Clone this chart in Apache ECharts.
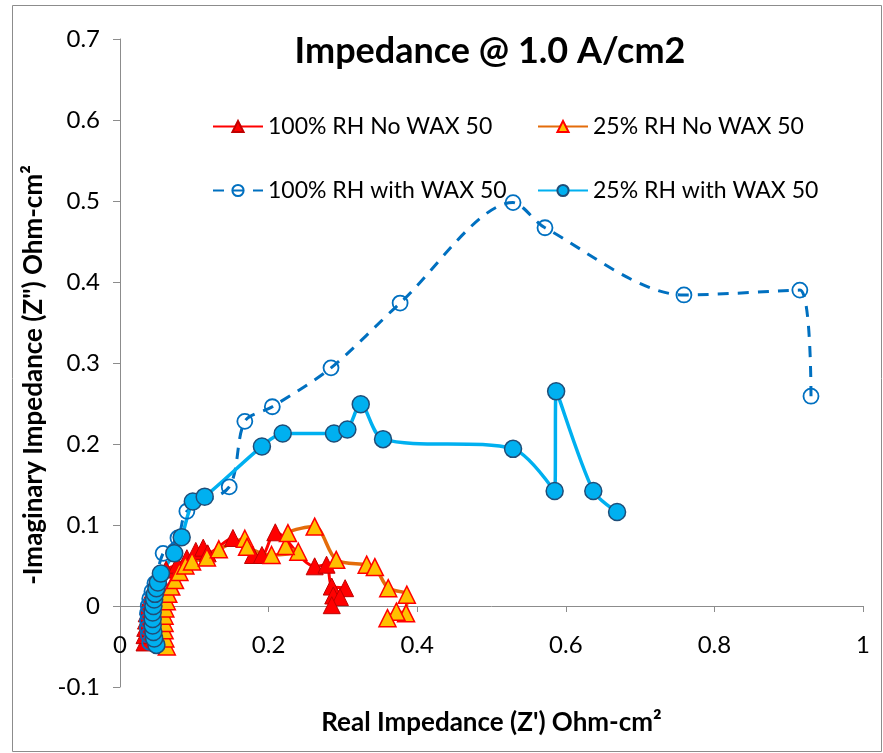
<!DOCTYPE html>
<html>
<head>
<meta charset="utf-8">
<script src="https://cdn.jsdelivr.net/npm/echarts@6/dist/echarts.min.js"></script>
<style>html,body{margin:0;padding:0;background:#fff}#c{width:883px;height:753px}</style>
</head>
<body>
<div id="c"></div>
<script>
// ---- data (Real Z', -Imag Z'') ----
const titleText = 'Impedance @ 1.0 A/cm2';
const xTitle = "Real Impedance (Z') Ohm-cm\u00b2";
const yTitle = '-Imaginary Impedance (Z") Ohm-cm\u00b2';
const seriesNames = ['100% RH No WAX 50', '25% RH No WAX 50', '100% RH with WAX 50', '25% RH with WAX 50'];

const rh100NoWax = [
  [0.033,-0.045],[0.033,-0.036],[0.034,-0.027],[0.035,-0.018],[0.036,-0.009],[0.038,0.000],
  [0.040,0.009],[0.043,0.018],[0.047,0.027],[0.053,0.036],[0.062,0.045],[0.077,0.051],
  [0.090,0.059],[0.102,0.068],[0.112,0.072],[0.118,0.065],[0.152,0.084],[0.179,0.063],
  [0.191,0.063],[0.209,0.091],[0.262,0.049],[0.278,0.051],[0.285,0.024],[0.303,0.022],
  [0.287,0.013],[0.296,0.011],[0.285,0.001]
];
const rh25NoWax = [
  [0.063,-0.050],[0.061,-0.040],[0.060,-0.030],[0.060,-0.021],[0.060,-0.012],[0.061,-0.003],
  [0.063,0.006],[0.065,0.015],[0.069,0.024],[0.074,0.032],[0.080,0.042],[0.088,0.050],
  [0.097,0.055],[0.117,0.060],[0.133,0.070],[0.168,0.083],[0.171,0.073],[0.204,0.063],
  [0.240,0.067],[0.223,0.074],[0.226,0.090],[0.262,0.098],[0.291,0.057],[0.332,0.051],
  [0.343,0.048],[0.361,0.022],[0.386,0.014],[0.385,-0.009],[0.372,-0.007],[0.360,-0.015]
];
const rh100Wax = [
  [0.040,-0.045],[0.038,-0.036],[0.037,-0.027],[0.037,-0.018],[0.037,-0.009],[0.038,0.000],
  [0.040,0.009],[0.043,0.018],[0.047,0.028],[0.058,0.065],[0.078,0.084],[0.090,0.117],
  [0.147,0.147],[0.168,0.228],[0.205,0.246],[0.284,0.294],[0.377,0.374],[0.529,0.498],
  [0.572,0.467],[0.759,0.384],[0.915,0.390],[0.930,0.259]
];
const rh25Wax = [
  [0.049,-0.048],[0.046,-0.040],[0.045,-0.032],[0.044,-0.024],[0.044,-0.016],[0.044,-0.008],
  [0.045,0.000],[0.046,0.008],[0.047,0.015],[0.049,0.022],[0.051,0.029],[0.055,0.040],
  [0.073,0.065],[0.083,0.085],[0.098,0.129],[0.114,0.135],[0.191,0.197],[0.219,0.213],
  [0.288,0.213],[0.306,0.218],[0.324,0.249],[0.354,0.206],[0.529,0.194],[0.585,0.142],
  [0.587,0.265],[0.637,0.142],[0.669,0.116]
];
const xTicks = [0, 0.2, 0.4, 0.6, 0.8, 1];
const yTicks = [-0.1, 0, 0.1, 0.2, 0.3, 0.4, 0.5, 0.6, 0.7];

const FONT = 'Lato';
const chart = echarts.init(document.getElementById('c'), null, {renderer: 'canvas'});

function legendAt(name, left, top) {
  return {
    data: [name], left: left, top: top, itemWidth: 50, itemHeight: 14, itemGap: 0,
    textStyle: {fontFamily: FONT, fontSize: 23, color: '#000'},
    selectedMode: false
  };
}

chart.setOption({
  animation: false,
  backgroundColor: '#fff',
  title: {
    text: titleText, left: 485, top: 28, textAlign: 'center',
    textStyle: {fontFamily: FONT, fontSize: 36, fontWeight: 'bold', color: '#000'}
  },
  legend: [
    legendAt(seriesNames[0], 207, 110),
    legendAt(seriesNames[1], 532, 110),
    legendAt(seriesNames[2], 207, 174),
    legendAt(seriesNames[3], 532, 174)
  ],
  graphic: [{
    type: 'rect', shape: {x: 12.5, y: 5.5, width: 869, height: 746},
    style: {fill: 'none', stroke: '#8c8c8c', lineWidth: 1}, silent: true, z: -1
  }],
  grid: {left: 120, right: 20, top: 39, bottom: 66, containLabel: false, outerBoundsMode: 'none'},
  xAxis: {
    type: 'value', min: 0, max: 1, interval: 0.2, position: 'bottom', offset: 0,
    name: xTitle, nameLocation: 'middle', nameGap: 104,
    nameTextStyle: {fontFamily: FONT, fontSize: 26, fontWeight: 'bold', color: '#000'},
    axisLine: {show: true, onZero: false, lineStyle: {color: '#8c8c8c', width: 1}},
    axisTick: {show: true, length: 6, lineStyle: {color: '#8c8c8c'}},
    axisLabel: {fontFamily: FONT, fontSize: 24, color: '#000', margin: 27,
      formatter: v => String(+v.toFixed(1))},
    splitLine: {show: false}
  },
  yAxis: {
    type: 'value', min: -0.1, max: 0.7, interval: 0.1,
    name: yTitle, nameLocation: 'middle', nameGap: 68, nameRotate: 90,
    nameTextStyle: {fontFamily: FONT, fontSize: 26, fontWeight: 'bold', color: '#000', padding: [0, 24, 0, 0]},
    axisLine: {show: true, onZero: false, lineStyle: {color: '#8c8c8c', width: 1}},
    axisTick: {show: true, length: 7, lineStyle: {color: '#8c8c8c'}},
    axisLabel: {fontFamily: FONT, fontSize: 24, color: '#000', margin: 20,
      formatter: v => String(+v.toFixed(1))},
    splitLine: {show: false}
  },
  series: [
    {
      name: seriesNames[0], type: 'line', data: rh100NoWax, smooth: 0.3,
      symbol: 'triangle', symbolSize: 17,
      lineStyle: {color: '#FF0000', width: 3},
      itemStyle: {color: '#FF0000', borderColor: '#C00000', borderWidth: 1}
    },
    {
      name: seriesNames[1], type: 'line', data: rh25NoWax, smooth: 0.3,
      symbol: 'triangle', symbolSize: 17,
      lineStyle: {color: '#E46C0A', width: 3.5},
      itemStyle: {color: '#FFC000', borderColor: '#FF0000', borderWidth: 1.5}
    },
    {
      name: seriesNames[2], type: 'line', data: rh100Wax, smooth: 0.3,
      symbol: 'circle', symbolSize: 15,
      lineStyle: {color: '#0070C0', width: 3, type: [11, 9]},
      itemStyle: {color: 'rgba(255,255,255,0)', borderColor: '#0070C0', borderWidth: 1.8}
    },
    {
      name: seriesNames[3], type: 'line', data: rh25Wax, smooth: 0.3,
      symbol: 'circle', symbolSize: 17,
      lineStyle: {color: '#00B0F0', width: 3.5},
      itemStyle: {color: '#00B0F0', borderColor: '#1F4E79', borderWidth: 1.5}
    }
  ]
});

// move the x axis up so it crosses the y axis at zero (computed from the chart's own scale)
const yZeroPx = chart.convertToPixel({gridIndex: 0}, [0, 0])[1];
const yMinPx = chart.convertToPixel({gridIndex: 0}, [0, yTicks[0]])[1];
chart.setOption({xAxis: {offset: yZeroPx - yMinPx}});
</script>
</body>
</html>
